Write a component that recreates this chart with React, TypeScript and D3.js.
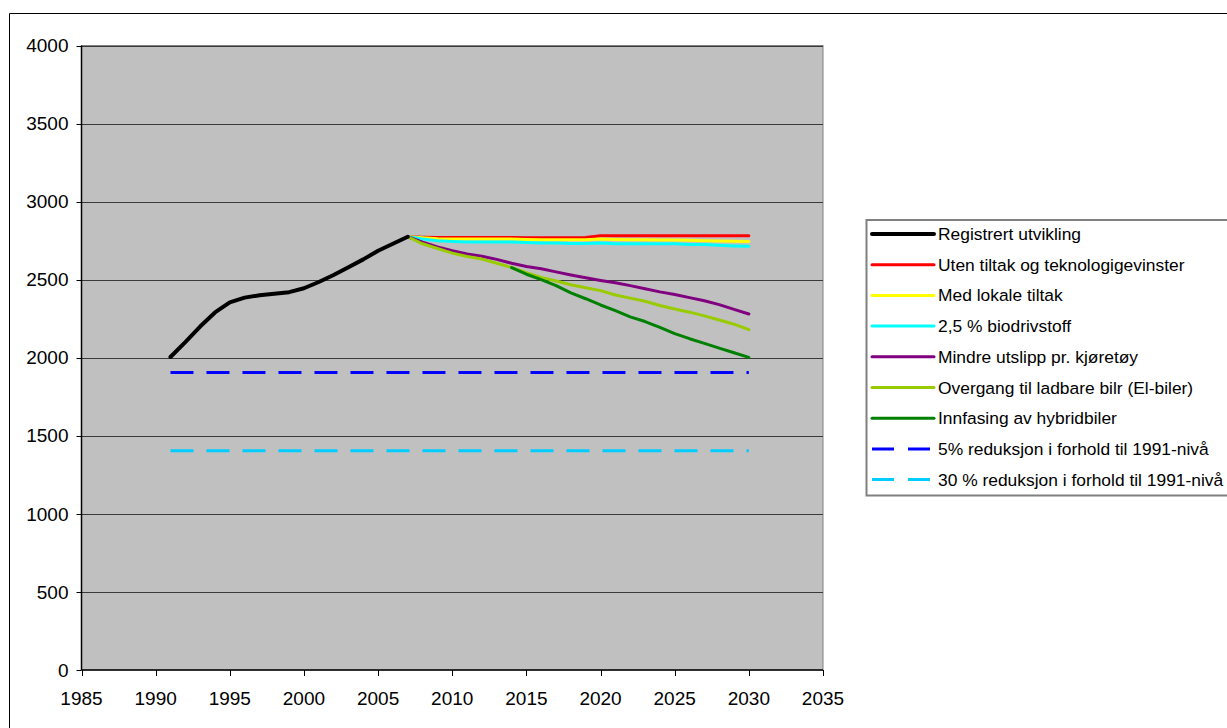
import React from "react";
import * as d3 from "d3";

const histYears = [1991, 1992, 1993, 1994, 1995, 1996, 1997, 1998, 1999, 2000, 2001, 2002, 2003, 2004, 2005, 2006, 2007];
const registrert = [2005, 2100, 2200, 2290, 2355, 2385, 2400, 2410, 2420, 2445, 2485, 2530, 2580, 2630, 2685, 2730, 2775];

const projYears = [2007, 2008, 2009, 2010, 2011, 2012, 2013, 2014, 2015, 2016, 2017, 2018, 2019, 2020, 2021, 2022, 2023, 2024, 2025, 2026, 2027, 2028, 2029, 2030];
const utenTiltak = [2775, 2772, 2770, 2770, 2770, 2770, 2770, 2770, 2768, 2768, 2768, 2768, 2770, 2782, 2782, 2782, 2782, 2782, 2782, 2782, 2782, 2782, 2782, 2782];
const medLokale = [2775, 2768, 2762, 2760, 2760, 2760, 2760, 2760, 2758, 2756, 2756, 2756, 2756, 2760, 2758, 2756, 2756, 2755, 2755, 2752, 2750, 2748, 2746, 2745];
const biodrivstoff = [2775, 2760, 2750, 2745, 2742, 2742, 2742, 2742, 2738, 2735, 2735, 2732, 2732, 2735, 2730, 2730, 2730, 2730, 2730, 2725, 2725, 2720, 2716, 2714];
const mindreUtslipp = [2775, 2740, 2710, 2685, 2665, 2650, 2630, 2605, 2585, 2570, 2550, 2530, 2512, 2495, 2480, 2462, 2442, 2422, 2405, 2385, 2365, 2340, 2310, 2280];
const overgangEl = [2775, 2730, 2700, 2670, 2648, 2632, 2605, 2578, 2545, 2515, 2492, 2468, 2448, 2430, 2402, 2382, 2362, 2335, 2312, 2292, 2268, 2242, 2215, 2180];
const hybridYears = [2014, 2015, 2016, 2017, 2018, 2019, 2020, 2021, 2022, 2023, 2024, 2025, 2026, 2027, 2028, 2029, 2030];
const innfasingHybrid = [2578, 2535, 2500, 2462, 2415, 2378, 2338, 2302, 2262, 2232, 2195, 2155, 2122, 2092, 2062, 2032, 2002];
const refYears = [1991, 2030];
const reduksjon5 = [1905, 1905];
const reduksjon30 = [1404, 1404];

const xTicks = [1985, 1990, 1995, 2000, 2005, 2010, 2015, 2020, 2025, 2030, 2035];
const yTicks = [0, 500, 1000, 1500, 2000, 2500, 3000, 3500, 4000];

type Series = { name: string; years: number[]; values: number[]; color: string; width: number; dash?: string };

const series: Series[] = [
  { name: "Registrert utvikling", years: histYears, values: registrert, color: "#000000", width: 4 },
  { name: "Uten tiltak og teknologigevinster", years: projYears, values: utenTiltak, color: "#FF0000", width: 3 },
  { name: "Med lokale tiltak", years: projYears, values: medLokale, color: "#FFFF00", width: 3 },
  { name: "2,5 % biodrivstoff", years: projYears, values: biodrivstoff, color: "#00FFFF", width: 3 },
  { name: "Mindre utslipp pr. kjøretøy", years: projYears, values: mindreUtslipp, color: "#800080", width: 3 },
  { name: "Overgang til ladbare bilr (El-biler)", years: projYears, values: overgangEl, color: "#99CC00", width: 3 },
  { name: "Innfasing av hybridbiler", years: hybridYears, values: innfasingHybrid, color: "#008000", width: 3 },
  { name: "5% reduksjon i forhold til 1991-nivå", years: refYears, values: reduksjon5, color: "#0000FF", width: 3, dash: "23 13" },
  { name: "30 % reduksjon i forhold til 1991-nivå", years: refYears, values: reduksjon30, color: "#00CCFF", width: 3, dash: "23 13" },
];

// draw order: black on top of projections
const drawOrder = [7, 8, 1, 2, 3, 4, 5, 6, 0];

export default function App() {
  const W = 1227;
  const H = 728;
  const left = 81.5;
  const right = 823;
  const top = 45.5;
  const bottom = 670;
  const x = d3.scaleLinear().domain([1985, 2035]).range([left, right]);
  const y = d3.scaleLinear().domain([0, 4000]).range([bottom, top]);
  const font = "'Liberation Sans', Arial, sans-serif";

  const legX = 866.5;
  const legY0 = 234;
  const legStep = 30.7;
  const legBottom = legY0 + legStep * 8 + 16;

  return (
    <svg width={W} height={H} style={{ position: "absolute", left: 0, top: 0, background: "#fff" }} fontFamily={font}>
      <rect x={0} y={0} width={W} height={H} fill="#fff" />
      {/* outer chart border */}
      <path d={`M9.5,${H + 5} V13.5 H${W + 5}`} fill="none" stroke="#000" strokeWidth={1} />
      {/* plot area */}
      <rect x={left} y={top} width={right - left} height={bottom - top} fill="#C0C0C0" stroke="#808080" strokeWidth={1} />
      {yTicks.map((t) => (
        <g key={`y${t}`}>
          {t > 0 && <line x1={left} x2={right} y1={Math.round(y(t)) + 0.5} y2={Math.round(y(t)) + 0.5} stroke="#3a3a3a" strokeWidth={1} />}
          <line x1={left - 5} x2={left} y1={Math.round(y(t)) + 0.5} y2={Math.round(y(t)) + 0.5} stroke="#000" />
          <text x={left - 13} y={y(t)} dy="0.35em" textAnchor="end" fontSize={19} fill="#000">{t}</text>
        </g>
      ))}
      <line x1={left} x2={left} y1={top} y2={bottom} stroke="#000" strokeWidth={1.5} />
      <line x1={left} x2={right} y1={bottom} y2={bottom} stroke="#000" strokeWidth={1.5} />
      {xTicks.map((t) => (
        <g key={`x${t}`}>
          <line x1={Math.round(x(t)) + 0.5} x2={Math.round(x(t)) + 0.5} y1={bottom} y2={bottom + 6} stroke="#000" />
          <text x={x(t)} y={bottom + 35} textAnchor="middle" fontSize={19} fill="#000">{t}</text>
        </g>
      ))}
      {drawOrder.map((i) => {
        const s = series[i];
        const pts = s.years.map((yr, k) => [yr, s.values[k]] as [number, number]);
        const line = d3.line<[number, number]>().x((d) => x(d[0])).y((d) => y(d[1]));
        return (
          <path key={s.name} d={line(pts) || ""} fill="none" stroke={s.color} strokeWidth={s.width}
            strokeDasharray={s.dash} strokeLinejoin="round" strokeLinecap={s.dash ? "butt" : "round"} />
        );
      })}
      {/* legend */}
      <path d={`M${W + 5},220 H${legX} V${legBottom} H${W + 5}`} fill="none" stroke="#808080" strokeWidth={2} />
      {series.map((s, i) => {
        const ly = legY0 + i * legStep;
        return (
          <g key={`leg${i}`}>
            <line x1={872} x2={934} y1={ly} y2={ly} stroke={s.color} strokeWidth={s.width}
              strokeDasharray={s.dash ? "22 14" : undefined} strokeLinecap={s.dash ? "butt" : "round"} />
            <text x={938} y={ly} dy="0.35em" fontSize={17.4} fill="#000">{s.name}</text>
          </g>
        );
      })}
    </svg>
  );
}
